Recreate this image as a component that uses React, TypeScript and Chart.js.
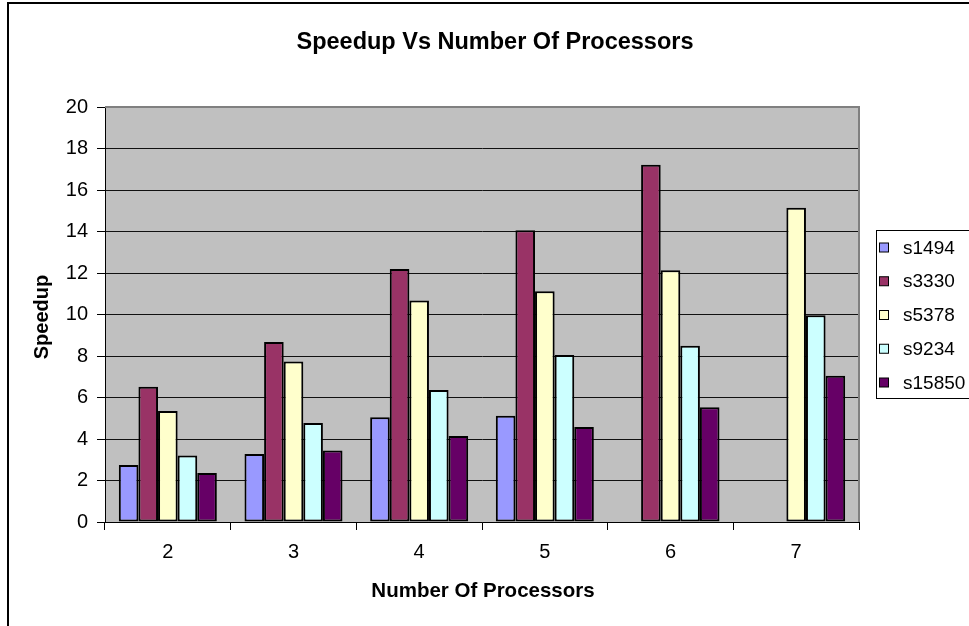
import { useEffect, useRef } from 'react';
import { Chart, registerables } from 'chart.js';

Chart.register(...registerables);

const FONT = "'Liberation Sans', Arial, Helvetica, sans-serif";

// Processor counts on the category axis
const categories = ['2', '3', '4', '5', '6', '7'];

// Speedup per circuit
const s1494 = [2.75, 3.28, 5.05, 5.12, null, null];
const s3330 = [6.52, 8.67, 12.19, 14.06, 17.22, null];
const s5378 = [5.35, 7.74, 10.68, 11.12, 12.13, 15.15];
const s9234 = [3.2, 4.77, 6.36, 8.05, 8.5, 9.96];
const s15850 = [2.36, 3.44, 4.14, 4.58, 5.53, 7.05];

const seriesNames = ['s1494', 's3330', 's5378', 's9234', 's15850'];
const seriesValues = [s1494, s3330, s5378, s9234, s15850];
const seriesColors = ['#9999FF', '#993366', '#FFFFCC', '#CCFFFF', '#660066'];

const yTickStep = 2;
const yMax = 20;

const TITLE = 'Speedup Vs Number Of Processors';
const X_TITLE = 'Number Of Processors';
const Y_TITLE = 'Speedup';

const decorPlugin = {
  id: 'excelDecor',
  beforeDraw(chart: any) {
    const { ctx, chartArea: a, width, height } = chart;
    ctx.save();
    ctx.fillStyle = '#FFFFFF';
    ctx.fillRect(0, 0, width, height);
    // outer chart frame
    ctx.strokeStyle = '#000000';
    ctx.lineWidth = 2;
    ctx.beginPath();
    ctx.moveTo(8, height + 5);
    ctx.lineTo(8, 3);
    ctx.lineTo(width + 5, 3);
    ctx.stroke();
    // plot background
    ctx.fillStyle = '#C0C0C0';
    ctx.fillRect(a.left, a.top, a.right - a.left, a.bottom - a.top);
    ctx.restore();
  },
  afterDraw(chart: any) {
    const { ctx, chartArea: a, width } = chart;
    ctx.save();
    // plot border (top and right)
    ctx.strokeStyle = '#808080';
    ctx.lineWidth = 2;
    ctx.beginPath();
    ctx.moveTo(a.left, a.top);
    ctx.lineTo(a.right, a.top);
    ctx.lineTo(a.right, a.bottom);
    ctx.stroke();

    ctx.fillStyle = '#000000';
    // chart title
    ctx.font = `bold 23.5px ${FONT}`;
    ctx.textAlign = 'center';
    ctx.textBaseline = 'alphabetic';
    ctx.fillText(TITLE, 495, 49);

    // x axis title
    ctx.font = `bold 20.5px ${FONT}`;
    ctx.fillText(X_TITLE, (a.left + a.right) / 2 + 1, 597);

    // y axis title
    ctx.save();
    ctx.translate(48, 317);
    ctx.rotate(-Math.PI / 2);
    ctx.font = `bold 20px ${FONT}`;
    ctx.fillText(Y_TITLE, 0, 0);
    ctx.restore();

    // legend
    const lx = 876.5;
    const ly = 230.5;
    const lh = 168;
    ctx.strokeStyle = '#000000';
    ctx.lineWidth = 1;
    ctx.strokeRect(lx, ly, width - lx + 10, lh);
    ctx.font = `19px ${FONT}`;
    ctx.textAlign = 'left';
    ctx.textBaseline = 'middle';
    chart.data.datasets.forEach((ds: any, i: number) => {
      const cy = 247.5 + i * 33.75;
      ctx.fillStyle = ds.backgroundColor;
      ctx.fillRect(879.5, cy - 4.5, 9, 9);
      ctx.strokeStyle = '#000000';
      ctx.strokeRect(879.5, cy - 4.5, 9, 9);
      ctx.fillStyle = '#000000';
      ctx.fillText(ds.label, 903, cy + 1);
    });
    ctx.restore();
  },
};

export default function App() {
  const ref = useRef<HTMLCanvasElement | null>(null);

  useEffect(() => {
    if (!ref.current) return;
    const chart = new Chart(ref.current, {
      type: 'bar',
      data: {
        labels: categories,
        datasets: seriesNames.map((name, i) => ({
          label: name,
          data: seriesValues[i],
          backgroundColor: seriesColors[i],
          borderColor: '#000000',
          borderWidth: 2,
          borderSkipped: false,
          barPercentage: 1,
          categoryPercentage: 0.78,
        })),
      },
      options: {
        responsive: false,
        animation: false,
        devicePixelRatio: 1,
        layout: { padding: { top: 107, right: 110, left: 0, bottom: 0 } },
        plugins: {
          legend: { display: false },
          title: { display: false },
          tooltip: { enabled: false },
        },
        scales: {
          x: {
            offset: true,
            grid: {
              offset: true,
              drawOnChartArea: false,
              drawTicks: true,
              tickLength: 8,
              color: '#000000',
            },
            border: { color: '#000000', width: 1 },
            ticks: {
              color: '#000000',
              font: { family: FONT, size: 20 },
              padding: 10,
              maxRotation: 0,
            },
            afterFit(scale: any) {
              scale.height = 104;
            },
          },
          y: {
            min: 0,
            max: yMax,
            grid: {
              color: '#111111',
              tickColor: '#000000',
              tickLength: 8,
            },
            border: { color: '#000000', width: 1 },
            ticks: {
              stepSize: yTickStep,
              color: '#000000',
              font: { family: FONT, size: 20 },
              padding: 9,
            },
            afterFit(scale: any) {
              scale.width = 105;
            },
          },
        },
      },
      plugins: [decorPlugin],
    });
    return () => chart.destroy();
  }, []);

  return (
    <div style={{ position: 'absolute', left: 0, top: 0, width: 969, height: 626 }}>
      <canvas ref={ref} width={969} height={626} style={{ display: 'block' }} />
    </div>
  );
}
